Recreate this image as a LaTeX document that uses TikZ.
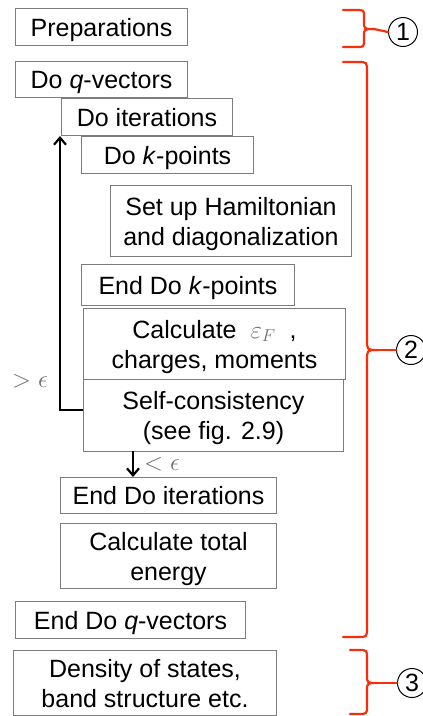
\documentclass[tikz,border=0pt]{standalone}
\usepackage{fontspec}
\setmainfont{Liberation Sans}
\usetikzlibrary{arrows.meta}
\definecolor{bred}{RGB}{250,45,10}
\definecolor{bgray}{RGB}{125,125,125}
\definecolor{mgray}{RGB}{110,110,110}
\begin{document}
\begin{tikzpicture}[x=1pt,y=-1pt,
  box/.style={draw=bgray,line width=1pt,anchor=north west,inner sep=0pt,align=center,
    text depth=0pt,font=\fontsize{25}{30}\selectfont},
  bracepath/.style={draw=bred,line width=2.2pt,line cap=round,line join=round},
  numcirc/.style={draw=black,line width=1pt,circle,minimum size=29pt,inner sep=0pt,
    font=\fontsize{25}{28}\selectfont},
  loopline/.style={draw=black,line width=2.8pt},
  lbl/.style={text=mgray,inner sep=0pt,font=\fontsize{28}{30}\selectfont}]
\useasboundingbox (0,0) rectangle (423,716);

\node[box,minimum width=172pt,minimum height=37pt] (prep) at (15,8) {Preparations};
\node[box,minimum width=172pt,minimum height=36pt] (doq) at (15,61) {Do \textit{q}-vectors};
\node[box,minimum width=171pt,minimum height=37pt] (doit) at (61,98) {Do iterations};
\node[box,minimum width=172pt,minimum height=37pt] (dok) at (81,136) {Do \textit{k}-points};
\node[box,minimum width=241pt,minimum height=71pt] (ham) at (110,185) {Set up Hamiltonian\\and diagonalization};
\node[box,minimum width=213pt,minimum height=41pt] (endk) at (81,264) {End Do \textit{k}-points};
\node[box,minimum width=262pt,minimum height=71pt] (calc) at (83,308) {Calculate \ \textcolor{mgray}{$\varepsilon_F$} \ ,\\charges, moments};
\node[box,minimum width=260pt,minimum height=72pt] (self) at (83,379) {Self-consistency\\(see fig. 2.9)};
\node[box,minimum width=216pt,minimum height=36pt] (endit) at (60,477) {End Do iterations};
\node[box,minimum width=216pt,minimum height=65pt] (etot) at (60,523) {Calculate total\\energy};
\node[box,minimum width=230pt,minimum height=37pt] (endq) at (15,601) {End Do \textit{q}-vectors};
\node[box,minimum width=263pt,minimum height=65pt] (dos) at (13,650) {Density of states,\\band structure etc.};

% loop arrow
\coordinate (lc) at (60,410);
\draw[loopline,-{Straight Barb[length=7pt,width=12pt,line width=2.2pt]}]
  (self.west |- lc) -- (lc) -- (lc |- doit.south);
\node[lbl,anchor=west] (gt) at (12,381) {$>\epsilon$};

% down arrow
\coordinate (dc) at (133,451);
\draw[loopline,-{Straight Barb[length=7pt,width=12pt,line width=2.2pt]}]
  (dc) -- (dc |- endit.north);
\node[lbl,anchor=west] (lt) at (144,464) {$<\epsilon$};

% braces
\node[numcirc] (c1) at (403,32) {1};
\node[numcirc] (c2) at (411,350) {2};
\node[numcirc] (c3) at (412,683) {3};

% brace 1
\draw[bracepath] (343,10) -- (356,10) .. controls (364,10) .. (364,17) -- (364,22)
  .. controls (364,29) .. (374,29) .. controls (364,29) .. (364,36) -- (364,40)
  .. controls (364,47) .. (356,47) -- (343,47);
\draw[bracepath] (374,29) -- (c1.west);
% brace 2
\draw[bracepath] (343,62) -- (358,62) .. controls (367,62) .. (367,72) -- (367,340)
  .. controls (367,350) .. (378,350) .. controls (367,350) .. (367,360) -- (367,628)
  .. controls (367,637) .. (358,637) -- (343,637);
\draw[bracepath] (378,350) -- (c2.west);
% brace 3
\draw[bracepath] (350,650) -- (358,650) .. controls (367,650) .. (367,658) -- (367,675)
  .. controls (367,683) .. (377,683) .. controls (367,683) .. (367,691) -- (367,706)
  .. controls (367,714) .. (358,714) -- (350,714);
\draw[bracepath] (377,683) -- (c3.west);
\end{tikzpicture}
\end{document}
